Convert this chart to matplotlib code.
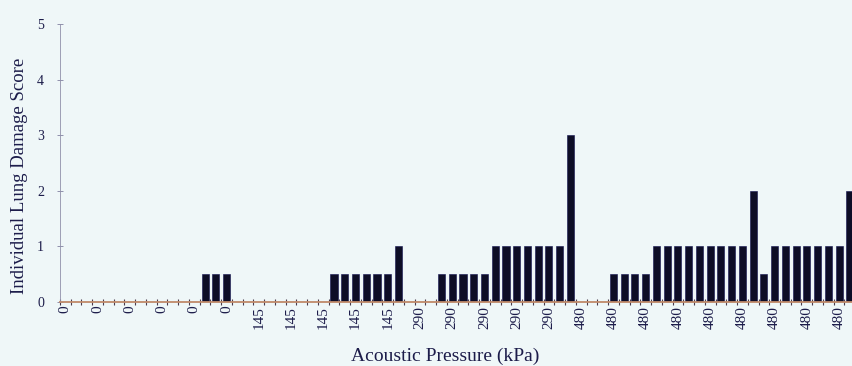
import matplotlib
matplotlib.use("Agg")
import matplotlib.pyplot as plt
import numpy as np
from matplotlib.ticker import FixedLocator, NullFormatter

# pression acoustique de chaque essai (une etiquette sur trois est affichee)
pressure = (['0'] * 18 + ['145'] * 15 + ['290'] * 15 + ['480'] * 26)

# score individuel de lesion pulmonaire
damage = [0, 0, 0, 0, 0, 0, 0, 0, 0, 0, 0, 0, 0,
          0.5, 0.5, 0.5,
          0, 0, 0, 0, 0, 0, 0, 0, 0,
          0.5, 0.5, 0.5, 0.5, 0.5, 0.5,
          1,
          0, 0, 0,
          0.5, 0.5, 0.5, 0.5, 0.5,
          1, 1, 1, 1, 1, 1, 1,
          3,
          0, 0, 0,
          0.5, 0.5, 0.5, 0.5,
          1, 1, 1, 1, 1, 1, 1, 1, 1,
          2,
          0.5,
          1, 1, 1, 1, 1, 1, 1,
          2]

bg = '#eff7f8'
ink = '#1c1c4a'

plt.rcParams['font.family'] = ['Liberation Serif', 'DejaVu Serif']

fig = plt.figure(figsize=(8.52, 3.66), dpi=100, facecolor=bg)
# l'axe deborde a droite : la figure d'origine est rognee
ax = fig.add_axes([0.0704, 0.176, 0.946, 0.758])
ax.set_facecolor(bg)

x = np.arange(len(damage))
ax.bar(x, damage, width=0.66, color='#0d0d26', edgecolor='#101050', linewidth=0.4)

ax.set_xlim(-0.5, 74.5)
ax.set_ylim(0, 5)

# etiquettes : une sur trois, comme dans Excel
ax.xaxis.set_major_locator(FixedLocator(x[::3]))
ax.set_xticklabels(pressure[::3], rotation=90, fontsize=11, color=ink)
ax.xaxis.set_minor_locator(FixedLocator(np.arange(-0.5, 75, 1)))
ax.xaxis.set_minor_formatter(NullFormatter())
ax.tick_params(axis='x', which='major', length=0, pad=3)
ax.tick_params(axis='x', which='minor', length=5, width=0.8,
               direction='inout', color='#4a3a4a')

ax.set_yticks(range(6))
ax.tick_params(axis='y', length=5, width=0.6, direction='inout',
               color='#8080a0', labelsize=10, labelcolor=ink, pad=9)

for s in ['top', 'right']:
    ax.spines[s].set_visible(False)
ax.spines['bottom'].set_color('#c08a6a')
ax.spines['bottom'].set_linewidth(1.3)
ax.spines['left'].set_color('#9090aa')
ax.spines['left'].set_linewidth(0.6)

fig.text(20 / 852, 1 - 176 / 366, 'Individual Lung Damage Score', fontsize=13.5,
         color=ink, rotation=90, ha='center', va='center')
fig.text(445 / 852, 1 / 366, 'Acoustic Pressure (kPa)', fontsize=14, color=ink,
         ha='center', va='bottom')

fig.savefig('out.png', dpi=100, facecolor=bg)
